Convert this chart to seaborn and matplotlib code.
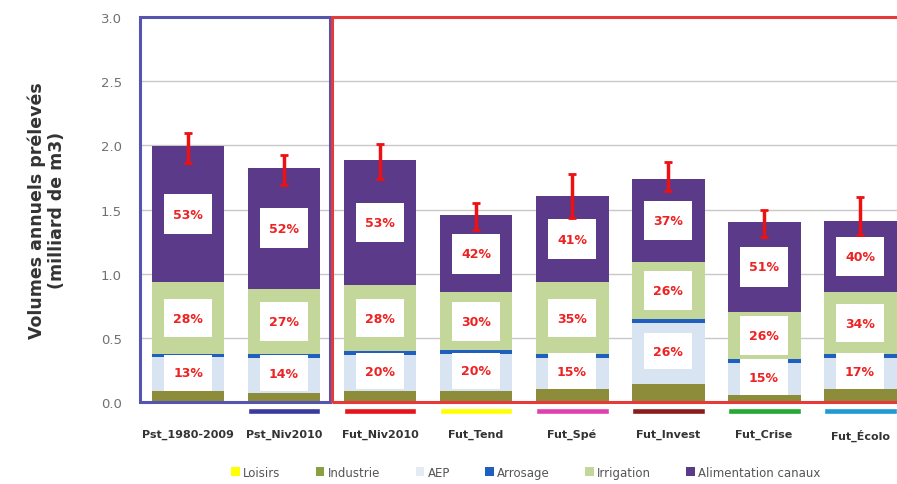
# Volumes annuels prélevés par usage - scénarios passés et futurs
import numpy as np
import pandas as pd
import matplotlib
matplotlib.use("Agg")
import matplotlib.pyplot as plt
import seaborn as sns
from matplotlib.patches import Rectangle, Patch

sns.set_style("white")
plt.rcParams['font.family'] = ['DejaVu Sans']

# --------------------------------------------------
# Data
# --------------------------------------------------

scenarios = ["Pst_1980-2009", "Pst_Niv2010", "Fut_Niv2010", "Fut_Tend",
             "Fut_Spé", "Fut_Invest", "Fut_Crise", "Fut_Écolo"]

loisirs = [0.004, 0.004, 0.004, 0.004, 0.004, 0.004, 0.004, 0.004]
industrie = [0.08, 0.07, 0.08, 0.08, 0.10, 0.14, 0.05, 0.10]
aep = [0.27, 0.27, 0.28, 0.29, 0.24, 0.47, 0.25, 0.24]
arrosage = [0.02, 0.03, 0.03, 0.03, 0.03, 0.03, 0.03, 0.03]
irrigation = [0.56, 0.51, 0.52, 0.45, 0.56, 0.45, 0.37, 0.48]
canaux = [1.06, 0.94, 0.97, 0.60, 0.67, 0.64, 0.70, 0.56]

err_low = [0.13, 0.13, 0.15, 0.11, 0.17, 0.09, 0.12, 0.11]
err_high = [0.10, 0.10, 0.13, 0.10, 0.17, 0.14, 0.09, 0.18]

pct_canaux = [53, 52, 53, 42, 41, 37, 51, 40]
pct_irrigation = [28, 27, 28, 30, 35, 26, 26, 34]
pct_aep = [13, 14, 20, 20, 15, 26, 15, 17]

layers = ["Loisirs", "Industrie", "AEP", "Arrosage", "Irrigation", "Alimentation canaux"]
layer_colors = ["#ffff00", "#8c8c3a", "#d9e4f2", "#1f5fbf", "#c4d79b", "#5b3a8a"]
legend_colors = ["#ffff00", "#8aa040", "#e4ebf4", "#1f5fbf", "#c4d79b", "#5b3a8a"]
scenario_colors = ["none", "#3a3aa0", "#e8141b", "#ffff00", "#e040b0",
                   "#8b1c1c", "#22aa33", "#1e9ad6"]

df = pd.DataFrame({
    "Scenario": scenarios,
    "Loisirs": loisirs,
    "Industrie": industrie,
    "AEP": aep,
    "Arrosage": arrosage,
    "Irrigation": irrigation,
    "Alimentation canaux": canaux,
})

tops = df[layers].cumsum(axis=1)
bottoms = tops - df[layers]
totals = tops[layers[-1]]
xpos = np.arange(len(scenarios))
bar_w = 0.76

# --------------------------------------------------
# Stacked bars (cumulative totals drawn from top to bottom)
# --------------------------------------------------

fig = plt.figure(figsize=(8.97, 4.85), dpi=100)
ax = fig.add_axes([140 / 897, 1 - 403 / 485, 757 / 897, 385 / 485])

for layer, col in reversed(list(zip(layers, layer_colors))):
    sns.barplot(x=df["Scenario"], y=tops[layer], color=col, width=bar_w,
                saturation=1, errorbar=None, linewidth=0, ax=ax, zorder=2)

ax.errorbar(xpos, totals, yerr=[err_low, err_high], fmt="none",
            ecolor="#ee1111", elinewidth=2.5, capsize=3, capthick=2, zorder=6)

# percentage labels in white boxes
label_pos = {
    "Alimentation canaux": bottoms["Alimentation canaux"] + df["Alimentation canaux"] / 2,
    "Irrigation": bottoms["Irrigation"] + df["Irrigation"] / 2,
    # AEP box sits over the AEP + arrosage part
    "AEP": (bottoms["AEP"] + tops["Arrosage"]) / 2,
}
box_h = {"Alimentation canaux": 0.31, "Irrigation": 0.30, "AEP": 0.28}
box_w = 0.5

for layer, pcts in [("Alimentation canaux", pct_canaux),
                    ("Irrigation", pct_irrigation),
                    ("AEP", pct_aep)]:
    h = box_h[layer]
    for i, (m, p) in enumerate(zip(label_pos[layer], pcts)):
        ax.add_patch(Rectangle((i - box_w / 2, m - h / 2), box_w, h,
                               fc="white", ec="none", zorder=4.5))
        ax.text(i, m, f"{p}%", ha="center", va="center", color="#ee2222",
                fontsize=9, fontweight="bold", zorder=5)

# scenario frames
ax.add_patch(Rectangle((-0.5, 0), 1.98, 3.0, fill=False, ec="#5555b0",
                       lw=2.2, clip_on=False, zorder=4))
ax.add_patch(Rectangle((1.5, 0), 7.0, 3.0, fill=False, ec="#e63a3a",
                       lw=2.2, clip_on=False, zorder=4))

# coloured marks under scenario names
ax.bar(xpos, 0.047, bottom=-0.094, width=bar_w, color=scenario_colors,
       clip_on=False, zorder=3)

# --------------------------------------------------
# Axes styling
# --------------------------------------------------

ax.set_xlim(-0.5, 7.385)
ax.set_ylim(0, 3.0)
ax.set_yticks(np.arange(0, 3.01, 0.5))
ax.set_yticklabels([f"{v:.1f}" for v in np.arange(0, 3.01, 0.5)])
ax.yaxis.grid(True, color="#c8c8c8", lw=1)
ax.xaxis.grid(False)
ax.set_axisbelow(True)
for s in ax.spines.values():
    s.set_visible(False)

ax.tick_params(axis="y", length=0, pad=13, labelsize=9.5, labelcolor="#707070")
ax.tick_params(axis="x", length=0, pad=19, labelsize=8, labelcolor="#333333")
plt.setp(ax.get_xticklabels(), fontweight="bold")

ax.set_xlabel("")
ax.set_ylabel("Volumes annuels prélevés\n(milliard de m3)", fontsize=12.5,
              fontweight="bold", color="#333333", linespacing=1.15)
ax.yaxis.set_label_coords(-0.098, 0.5)

handles = [Patch(facecolor=c, edgecolor="none", label=l)
           for l, c in zip(layers, legend_colors)]
ax.legend(handles=handles, loc="center", bbox_to_anchor=(0.51, -0.182),
          ncol=6, frameon=False, fontsize=8.5, handlelength=0.7,
          handleheight=0.7, handletextpad=0.3, columnspacing=3.0,
          labelcolor="#555555")

fig.savefig("out.png", dpi=100)
